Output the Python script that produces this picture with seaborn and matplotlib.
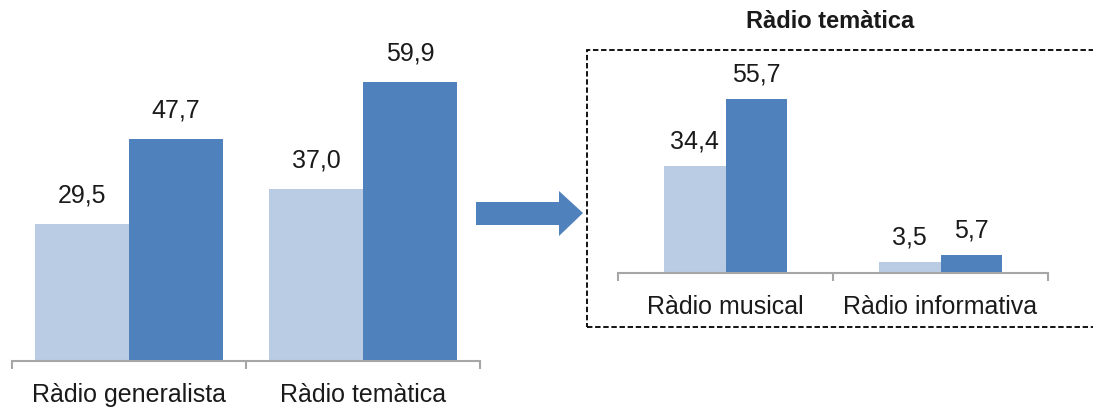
#!/usr/bin/env python3
"""
Radio audience: generalist vs thematic, with thematic split into musical / informative
"""

import matplotlib.pyplot as plt
import matplotlib.patches as mpatches
import seaborn as sns
import pandas as pd

# Data
series = ['Sèrie 1', 'Sèrie 2']
main_categories = ['Ràdio generalista', 'Ràdio temàtica']
main_values_1 = [29.5, 37.0]
main_values_2 = [47.7, 59.9]

detail_title = 'Ràdio temàtica'
detail_categories = ['Ràdio musical', 'Ràdio informativa']
detail_values_1 = [34.4, 3.5]
detail_values_2 = [55.7, 5.7]

colors = ['#b9cce4', '#4f81bd']
axis_grey = '#a6a6a6'

W, H = 1093, 407


def long_table(cats, v1, v2):
    rows = []
    for c, a, b in zip(cats, v1, v2):
        rows.append({'cat': c, 'serie': series[0], 'val': a})
        rows.append({'cat': c, 'serie': series[1], 'val': b})
    return pd.DataFrame(rows)


def px_axes(fig, x0, x1, y_bottom, y_top):
    """Add axes from pixel coordinates (y measured from top)"""
    return fig.add_axes([x0 / W, (H - y_bottom) / H, (x1 - x0) / W, (y_bottom - y_top) / H])


def draw_bars(ax, df, cats, width, ymax, label_pad, tick_pad):
    sns.barplot(data=df, x='cat', y='val', hue='serie', order=cats, hue_order=series,
                palette=colors, width=width, saturation=1, linewidth=0,
                errorbar=None, legend=False, ax=ax)
    for cont in ax.containers:
        ax.bar_label(cont, labels=[f"{v:.1f}".replace('.', ',') for v in cont.datavalues],
                     padding=label_pad, fontsize=18, color='#1a1a1a')
    n = len(cats)
    ax.set_xlim(-0.5, n - 0.5)
    ax.set_ylim(0, ymax)
    ax.set_xticks([i - 0.5 for i in range(n + 1)])
    ax.set_xticklabels([''] * (n + 1))
    ax.set_xticks(range(n), minor=True)
    ax.set_xticklabels(cats, minor=True, fontsize=18, color='#1a1a1a')
    ax.tick_params(axis='x', which='major', bottom=True, length=6, width=1.5,
                   color=axis_grey, direction='out')
    ax.tick_params(axis='x', which='minor', bottom=True, length=0, pad=tick_pad)
    ax.set_yticks([])
    ax.set_xlabel('')
    ax.set_ylabel('')
    for side in ['top', 'left', 'right']:
        ax.spines[side].set_visible(False)
    ax.spines['bottom'].set_color(axis_grey)
    ax.spines['bottom'].set_linewidth(1.5)
    ax.patch.set_alpha(0)


sns.set_style('white')
plt.rcParams['font.family'] = ['Liberation Sans', 'DejaVu Sans']

fig = plt.figure(figsize=(W / 100, H / 100), dpi=100)

# Left chart
ax1 = px_axes(fig, 12, 480, 361, 0)
draw_bars(ax1, long_table(main_categories, main_values_1, main_values_2),
          main_categories, 0.8, 361 / 4.65, 12, 16)

# Right chart
ax2 = px_axes(fig, 618, 1048, 273, 60)
draw_bars(ax2, long_table(detail_categories, detail_values_1, detail_values_2),
          detail_categories, 0.57, 213 / 3.12, 9, 16)

fig.text(830 / W, 1 - 22 / H, detail_title, ha='center', va='center',
         fontsize=17, fontweight='bold', color='#1a1a1a')

# Dashed frame around the detail chart
frame = mpatches.Rectangle((587 / W, (H - 327) / H), 600 / W, 277 / H,
                           transform=fig.transFigure, fill=False,
                           edgecolor='black', linestyle=(0, (3, 1.5)), linewidth=1.3)
fig.add_artist(frame)

# Arrow between the charts
pts = [(476, 202), (559, 202), (559, 191), (583, 213), (559, 236), (559, 225), (476, 225)]
arrow = mpatches.Polygon([(x / W, 1 - y / H) for x, y in pts], closed=True,
                         transform=fig.transFigure, facecolor=colors[1], edgecolor='none')
fig.add_artist(arrow)

fig.savefig('out.png', dpi=100, facecolor='white')
plt.close(fig)
